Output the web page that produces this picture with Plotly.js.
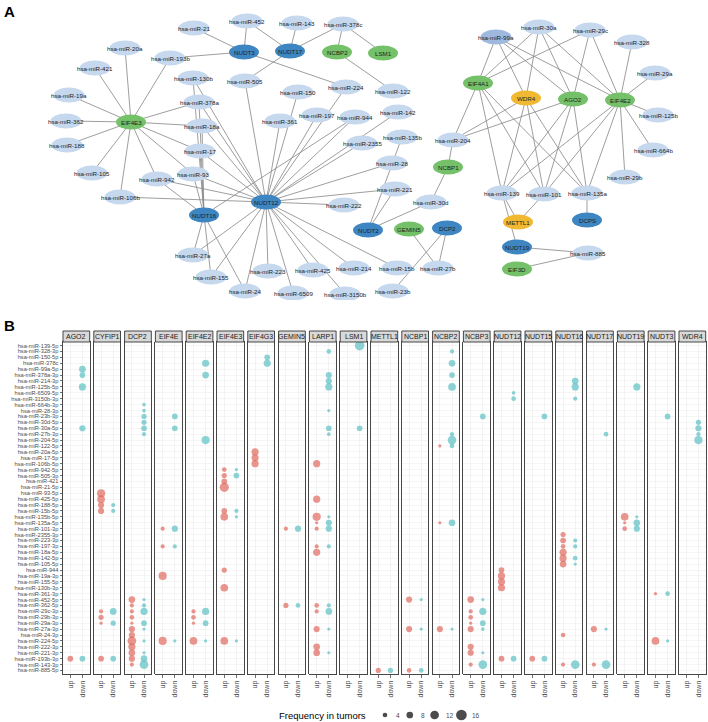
<!DOCTYPE html>
<html><head><meta charset="utf-8">
<script src="https://cdn.plot.ly/plotly-3.0.1.min.js"></script>
<style>html,body{margin:0;padding:0;background:#fff}#chart{width:708px;height:722px}</style>
</head><body><div id="chart"></div>
<script>
// ---------------- Panel A: network ----------------
const nodeName = ['NUDT3','NUDT17','NCBP2','LSM1','EIF4E3','NUDT12','NUDT16','NUDT2','GEMIN5','DCP2','NCBP1','EIF4A1','WDR4','AGO2','EIF4E2','METTL1','DCPS','NUDT19','EIF3D',
 'hsa-miR-21','hsa-miR-452','hsa-miR-143','hsa-miR-378c','hsa-miR-20a','hsa-miR-193b','hsa-miR-421','hsa-miR-130b','hsa-miR-505','hsa-miR-224','hsa-miR-122','hsa-miR-150',
 'hsa-miR-19a','hsa-miR-378a','hsa-miR-142','hsa-miR-197','hsa-miR-944','hsa-miR-361','hsa-miR-362','hsa-miR-18a','hsa-miR-135b','hsa-miR-2355','hsa-miR-188','hsa-miR-17',
 'hsa-miR-28','hsa-miR-105','hsa-miR-93','hsa-miR-942','hsa-miR-221','hsa-miR-106b','hsa-miR-222','hsa-miR-30d','hsa-miR-27a','hsa-miR-155','hsa-miR-223','hsa-miR-425',
 'hsa-miR-214','hsa-miR-15b','hsa-miR-27b','hsa-miR-24','hsa-miR-6509','hsa-miR-3150b','hsa-miR-23b','hsa-miR-30a','hsa-miR-29c','hsa-miR-99a','hsa-miR-328','hsa-miR-29a',
 'hsa-miR-125b','hsa-miR-204','hsa-miR-664b','hsa-miR-29b','hsa-miR-139','hsa-miR-101','hsa-miR-135a','hsa-miR-885'];
const nodeKind = ['nudix','nudix','green','green','green','nudix','nudix','nudix','green','nudix','green','green','yellow','green','green','yellow','nudix','nudix','green',
 'mir','mir','mir','mir','mir','mir','mir','mir','mir','mir','mir','mir',
 'mir','mir','mir','mir','mir','mir','mir','mir','mir','mir','mir','mir',
 'mir','mir','mir','mir','mir','mir','mir','mir','mir','mir','mir','mir',
 'mir','mir','mir','mir','mir','mir','mir','mir','mir','mirDark','mir','mir',
 'mir','mir','mir','mir','mir','mir','mir','mir'];
const nodeX = [244,290,337,383,131,266,204,368,409,447,448,478,526,573,620,518,587,517,517,
 194,247,297,343,125,170,95,193,245,346,393,298,
 69,199,398,317,355,280,66,202,402,362,67,200,
 392,92,193,157,395,120,344,431,193,211,268,313,
 354,397,438,245,293,345,393,539,590,496,632,655,
 658,453,653,625,502,544,587,588];
const nodeY = [52,51,52,53,122,202,215,230,229,228,167,83,98,99,100,222,220,247,269,
 28,21,23,24,48,58,68,78,81,87,91,92,
 95,102,112,115,117,121,121,126,137,143,145,151,
 163,173,174,179,189,197,205,202,255,277,271,270,
 268,268,268,291,293,294,291,27,30,37,42,73,
 115,140,150,177,193,194,193,253];
const edgeHubs = ['EIF4E3','NUDT3','NUDT17','NCBP2','LSM1','NUDT12','NUDT16','NUDT2','GEMIN5','DCP2','NCBP1','EIF4A1','WDR4','AGO2','EIF4E2','METTL1','NUDT19','DCPS','EIF3D'];
const edgeLists = [
 ['hsa-miR-20a','hsa-miR-193b','hsa-miR-421','hsa-miR-19a','hsa-miR-362','hsa-miR-188','hsa-miR-105','hsa-miR-106b','hsa-miR-942','hsa-miR-93','hsa-miR-17','hsa-miR-18a','hsa-miR-378a'],
 ['hsa-miR-21','hsa-miR-452','hsa-miR-193b','hsa-miR-224'],
 ['hsa-miR-452','hsa-miR-143','hsa-miR-378c','hsa-miR-505'],
 ['hsa-miR-378c','hsa-miR-122'],
 ['hsa-miR-378c'],
 ['hsa-miR-130b','hsa-miR-378a','hsa-miR-18a','hsa-miR-17','hsa-miR-93','hsa-miR-942','hsa-miR-106b','hsa-miR-505','hsa-miR-361','hsa-miR-150','hsa-miR-197','hsa-miR-224','hsa-miR-944','hsa-miR-2355','hsa-miR-142','hsa-miR-28','hsa-miR-221','hsa-miR-222','hsa-miR-27a','hsa-miR-155','hsa-miR-24','hsa-miR-223','hsa-miR-6509','hsa-miR-425','hsa-miR-214','hsa-miR-15b','hsa-miR-3150b'],
 ['hsa-miR-130b','hsa-miR-378a','hsa-miR-18a','hsa-miR-17','hsa-miR-93','hsa-miR-942','hsa-miR-27a','hsa-miR-155','hsa-miR-24','hsa-miR-944'],
 ['hsa-miR-221','hsa-miR-135b','hsa-miR-30d'],
 ['hsa-miR-27b'],
 ['hsa-miR-27b','hsa-miR-23b'],
 ['hsa-miR-204','hsa-miR-30d'],
 ['hsa-miR-99a','hsa-miR-30a','hsa-miR-29c','hsa-miR-204','hsa-miR-139','hsa-miR-101','hsa-miR-135a'],
 ['hsa-miR-99a','hsa-miR-30a','hsa-miR-204','hsa-miR-139','hsa-miR-101','hsa-miR-135a'],
 ['hsa-miR-99a','hsa-miR-30a','hsa-miR-29c','hsa-miR-204','hsa-miR-139','hsa-miR-101','hsa-miR-135a'],
 ['hsa-miR-99a','hsa-miR-30a','hsa-miR-29c','hsa-miR-328','hsa-miR-29a','hsa-miR-125b','hsa-miR-664b','hsa-miR-29b','hsa-miR-139','hsa-miR-101','hsa-miR-135a'],
 ['hsa-miR-139','hsa-miR-101'],
 ['hsa-miR-139','hsa-miR-885'],
 ['hsa-miR-135a'],
 ['hsa-miR-885']
];

// ---------------- Panel B: dot plot ----------------
const proteins = ['AGO2','CYFIP1','DCP2','EIF4E','EIF4E2','EIF4E3','EIF4G3','GEMIN5','LARP1','LSM1','METTL1','NCBP1','NCBP2','NCBP3','NUDT12','NUDT15','NUDT16','NUDT17','NUDT19','NUDT3','WDR4'];
const directions = ['up','down'];
const mirnas = ['hsa-miR-139-5p','hsa-miR-328-3p','hsa-miR-150-5p','hsa-miR-378c','hsa-miR-99a-5p','hsa-miR-378a-3p','hsa-miR-214-3p','hsa-miR-125b-5p',
 'hsa-miR-6509-5p','hsa-miR-3150b-3p','hsa-miR-664b-3p','hsa-miR-28-3p','hsa-miR-23b-3p','hsa-miR-30d-5p','hsa-miR-30a-5p','hsa-miR-27b-3p',
 'hsa-miR-204-5p','hsa-miR-122-5p','hsa-miR-20a-5p','hsa-miR-17-5p','hsa-miR-106b-5p','hsa-miR-942-5p','hsa-miR-505-3p','hsa-miR-421',
 'hsa-miR-21-5p','hsa-miR-93-5p','hsa-miR-425-5p','hsa-miR-188-5p','hsa-miR-15b-5p','hsa-miR-135b-5p','hsa-miR-135a-5p','hsa-miR-101-3p',
 'hsa-miR-2355-3p','hsa-miR-223-3p','hsa-miR-197-3p','hsa-miR-18a-5p','hsa-miR-142-5p','hsa-miR-105-5p','hsa-miR-944','hsa-miR-19a-3p',
 'hsa-miR-155-5p','hsa-miR-130b-3p','hsa-miR-361-3p','hsa-miR-452-5p','hsa-miR-362-5p','hsa-miR-29c-3p','hsa-miR-29b-3p','hsa-miR-29a-3p',
 'hsa-miR-27a-3p','hsa-miR-24-3p','hsa-miR-224-5p','hsa-miR-222-3p','hsa-miR-221-3p','hsa-miR-193b-3p','hsa-miR-143-3p','hsa-miR-885-5p'];
// each dot: protein, miRNA (index into mirnas), direction, frequency in tumors
const dotProtein = [
 'AGO2','AGO2','AGO2','AGO2','AGO2','AGO2',
 'CYFIP1','CYFIP1','CYFIP1','CYFIP1','CYFIP1','CYFIP1','CYFIP1','CYFIP1','CYFIP1','CYFIP1','CYFIP1','CYFIP1','CYFIP1',
 'DCP2','DCP2','DCP2','DCP2','DCP2','DCP2','DCP2','DCP2','DCP2','DCP2','DCP2','DCP2','DCP2','DCP2','DCP2','DCP2','DCP2','DCP2','DCP2','DCP2','DCP2','DCP2','DCP2','DCP2','DCP2','DCP2','DCP2',
 'EIF4E','EIF4E','EIF4E','EIF4E','EIF4E','EIF4E','EIF4E','EIF4E','EIF4E',
 'EIF4E2','EIF4E2','EIF4E2','EIF4E2','EIF4E2','EIF4E2','EIF4E2','EIF4E2','EIF4E2','EIF4E2',
 'EIF4E3','EIF4E3','EIF4E3','EIF4E3','EIF4E3','EIF4E3','EIF4E3','EIF4E3','EIF4E3','EIF4E3','EIF4E3','EIF4E3','EIF4E3','EIF4E3',
 'EIF4G3','EIF4G3','EIF4G3','EIF4G3','EIF4G3',
 'GEMIN5','GEMIN5','GEMIN5','GEMIN5',
 'LARP1','LARP1','LARP1','LARP1','LARP1','LARP1','LARP1','LARP1','LARP1','LARP1','LARP1','LARP1','LARP1','LARP1','LARP1','LARP1','LARP1','LARP1','LARP1','LARP1','LARP1','LARP1','LARP1','LARP1','LARP1','LARP1','LARP1',
 'LSM1','LSM1',
 'METTL1','METTL1',
 'NCBP1','NCBP1','NCBP1','NCBP1','NCBP1','NCBP1',
 'NCBP2','NCBP2','NCBP2','NCBP2','NCBP2','NCBP2','NCBP2','NCBP2','NCBP2','NCBP2','NCBP2','NCBP2',
 'NCBP3','NCBP3','NCBP3','NCBP3','NCBP3','NCBP3','NCBP3','NCBP3','NCBP3','NCBP3','NCBP3','NCBP3','NCBP3','NCBP3','NCBP3',
 'NUDT12','NUDT12','NUDT12','NUDT12','NUDT12','NUDT12','NUDT12','NUDT12',
 'NUDT15','NUDT15','NUDT15',
 'NUDT16','NUDT16','NUDT16','NUDT16','NUDT16','NUDT16','NUDT16','NUDT16','NUDT16','NUDT16','NUDT16','NUDT16','NUDT16','NUDT16','NUDT16','NUDT16',
 'NUDT17','NUDT17','NUDT17','NUDT17','NUDT17',
 'NUDT19','NUDT19','NUDT19','NUDT19','NUDT19','NUDT19','NUDT19',
 'NUDT3','NUDT3','NUDT3','NUDT3','NUDT3',
 'WDR4','WDR4','WDR4','WDR4'];
const dotMirna = [
 4,5,7,14,53,53,
 25,26,27,28,27,28,45,46,47,53,45,47,53,
 10,11,12,13,14,15,43,44,45,46,47,48,49,50,51,52,53,54,43,44,45,47,48,50,52,53,54,
 12,14,31,31,34,34,39,50,50,
 3,5,16,45,46,47,50,45,47,50,
 21,22,23,24,21,22,28,29,28,29,38,41,50,50,
 2,3,18,19,20,
 31,31,44,44,
 1,5,6,7,11,14,15,20,26,29,30,31,34,35,29,30,31,34,44,45,48,51,52,44,45,48,52,
 0,14,
 55,55,
 43,43,48,48,55,55,
 1,3,5,7,15,16,17,17,30,30,48,48,
 12,43,45,46,47,48,51,52,54,43,45,47,48,52,54,
 8,9,38,39,40,41,53,53,
 12,53,53,
 6,7,9,32,33,34,35,36,37,33,34,36,37,49,54,54,
 15,48,48,54,54,
 7,29,30,31,29,30,31,
 12,42,42,50,50,
 13,14,15,16];
const dotDir = [
 'down','down','down','down','up','down',
 'up','up','up','up','down','down','up','up','up','up','down','down','down',
 'down','down','down','down','down','down','up','up','up','up','up','up','up','up','up','up','up','up','down','down','down','down','down','down','down','down','down',
 'down','down','up','down','up','down','up','up','down',
 'down','down','down','up','up','up','up','down','down','down',
 'up','up','up','up','down','down','up','up','down','down','up','up','up','down',
 'down','down','up','up','up',
 'up','down','up','down',
 'down','down','down','down','down','down','down','up','up','up','up','up','up','up','down','down','down','down','up','up','up','up','up','down','down','down','down',
 'down','down',
 'up','down',
 'up','down','up','down','up','down',
 'down','down','down','down','down','down','down','up','up','down','up','down',
 'down','up','up','up','up','up','up','up','up','down','down','down','down','down','down',
 'down','down','up','up','up','up','up','down',
 'down','up','down',
 'down','down','down','up','up','up','up','up','up','down','down','down','down','up','up','down',
 'down','up','down','up','down',
 'down','up','up','up','down','down','down',
 'down','up','down','up','down',
 'down','down','down','down'];
const dotFreq = [
 8,6,9,7,6,6,
 11,10,7,7,3,3,3,5,1,6,8,5,6,
 2,2,5,5,6,3,8,3,3,4,1,7,7,12,9,8,7,3,1,3,9,6,1,1,1,8,12,
 6,6,3,7,3,3,11,11,1,
 9,8,11,3,4,1,10,9,6,1,
 4,5,6,13,1,6,6,10,3,1,5,10,10,1,
 6,9,9,9,9,
 3,7,5,4,
 4,7,7,9,1,6,2,9,9,11,1,3,3,9,1,7,7,3,4,3,7,8,8,3,8,1,1,
 14,6,
 5,5,
 7,1,7,1,4,4,
 3,8,6,10,3,12,4,1,1,8,7,1,
 6,8,3,4,1,7,7,7,3,1,9,6,2,1,12,
 2,4,6,9,9,9,6,6,
 6,6,6,
 8,9,3,5,6,4,9,9,8,3,3,4,1,4,3,12,
 4,7,1,3,12,
 9,10,1,4,1,8,7,
 6,1,4,10,1,
 5,7,3,11];
const legendFreq = [4, 8, 12, 16];

// ---------------- build ----------------
const W = 708, H = 722;
const px = x => x / W, py = y => 1 - y / H;
const sizeOf = f => 2.7 + 0.5 * f;
const dirColor = {up: '#E0695F', down: '#5CC0C5'};
const kindColor = {nudix: '#3e86c1', green: '#74c169', yellow: '#f1b832', mir: '#c5d8ee', mirDark: '#9fb9de'};
const FONT = 'Liberation Sans, Arial, Helvetica, sans-serif';

const data = [], shapes = [], annotations = [];
const layout = {width: W, height: H, margin: {l: 0, r: 0, t: 0, b: 0}, paper_bgcolor: '#fff', plot_bgcolor: 'rgba(0,0,0,0)',
  showlegend: false, font: {family: FONT}, hovermode: false};

// Panel A axes in pixel-like units
layout.xaxis = {domain: [0, 1], range: [0, W], visible: false, fixedrange: true};
layout.yaxis = {domain: [py(300), 1], range: [300, 0], visible: false, fixedrange: true, anchor: 'x'};

const idx = {};
nodeName.forEach((n, i) => idx[n] = i);
const ex = [], ey = [];
edgeHubs.forEach((h, k) => {
  edgeLists[k].forEach(t => {
    ex.push(nodeX[idx[h]], nodeX[idx[t]], null);
    ey.push(nodeY[idx[h]], nodeY[idx[t]], null);
  });
});
data.push({type: 'scatter', mode: 'lines', x: ex, y: ey, xaxis: 'x', yaxis: 'y', line: {color: '#8c8c8c', width: 0.85}, hoverinfo: 'skip'});

nodeName.forEach((n, i) => {
  const rx = nodeKind[i].startsWith('mir') ? 15.5 : 15, ry = 7.5;
  shapes.push({type: 'circle', xref: 'x', yref: 'y', x0: nodeX[i] - rx, x1: nodeX[i] + rx, y0: nodeY[i] - ry, y1: nodeY[i] + ry,
    fillcolor: kindColor[nodeKind[i]], line: {width: 0}, layer: 'above'});
  annotations.push({xref: 'x', yref: 'y', x: nodeX[i], y: nodeY[i], text: n, showarrow: false,
    font: {size: 6.2, color: '#1e1e1e', family: FONT}, xanchor: 'center', yanchor: 'middle'});
});

annotations.push({xref: 'paper', yref: 'paper', x: px(2), y: py(1), xanchor: 'left', yanchor: 'top', text: '<b>A</b>', showarrow: false, font: {size: 15, color: '#000'}});
annotations.push({xref: 'paper', yref: 'paper', x: px(2), y: py(315), xanchor: 'left', yanchor: 'top', text: '<b>B</b>', showarrow: false, font: {size: 15, color: '#000'}});

// Panel B facets
const facetLeft0 = 63, facetPitch = 30.8, facetWidth = 26.7;
const panelTop = 342, panelBottom = 674, stripTop = 331;
proteins.forEach((p, k) => {
  const n = k + 2;
  const x0 = facetLeft0 + facetPitch * k, x1 = x0 + facetWidth;
  layout['xaxis' + n] = {domain: [px(x0), px(x1)], anchor: 'y' + n, type: 'category', categoryorder: 'array', categoryarray: directions,
    range: [-0.6, 1.6], tickmode: 'array', tickvals: directions, ticktext: directions, tickangle: -90, ticks: 'outside', ticklen: 3, tickwidth: 0.7,
    tickcolor: '#333', tickfont: {size: 7, color: '#4d4d4d', family: FONT}, showline: true, mirror: true, linecolor: '#333', linewidth: 0.9,
    showgrid: true, gridcolor: '#ebebeb', gridwidth: 0.6, zeroline: false, fixedrange: true};
  layout['yaxis' + n] = {domain: [py(panelBottom), py(panelTop)], anchor: 'x' + n, type: 'category', categoryorder: 'array', categoryarray: mirnas,
    range: [mirnas.length - 0.4, -0.6], tickmode: 'array', tickvals: mirnas, ticktext: mirnas, showticklabels: k === 0,
    ticks: k === 0 ? 'outside' : '', ticklen: 2.5, tickwidth: 0.7, tickcolor: '#333', tickfont: {size: 5.7, color: '#4d4d4d', family: FONT},
    showline: true, mirror: true, linecolor: '#333', linewidth: 0.9, showgrid: true, gridcolor: '#ebebeb', gridwidth: 0.5, zeroline: false, fixedrange: true};
  shapes.push({type: 'rect', xref: 'paper', yref: 'paper', x0: px(x0), x1: px(x1), y0: py(panelTop), y1: py(stripTop),
    fillcolor: '#d9d9d9', line: {color: '#333', width: 0.9}, layer: 'above'});
  annotations.push({xref: 'paper', yref: 'paper', x: px((x0 + x1) / 2), y: py((panelTop + stripTop) / 2), text: p, showarrow: false,
    font: {size: 7, color: '#1a1a1a', family: FONT}, xanchor: 'center', yanchor: 'middle'});
  const xs = [], ys = [], ss = [], cs = [];
  dotProtein.forEach((dp, i) => {
    if (dp !== p) return;
    xs.push(dotDir[i]); ys.push(mirnas[dotMirna[i]]); ss.push(sizeOf(dotFreq[i])); cs.push(dirColor[dotDir[i]]);
  });
  data.push({type: 'scatter', mode: 'markers', x: xs, y: ys, xaxis: 'x' + n, yaxis: 'y' + n, cliponaxis: false,
    marker: {size: ss, color: cs, line: {width: 0}, sizemode: 'diameter'}, hoverinfo: 'skip'});
});

// Size legend
const lgN = proteins.length + 2;
layout['xaxis' + lgN] = {domain: [0, 1], range: [0, W], visible: false, fixedrange: true, anchor: 'y' + lgN};
layout['yaxis' + lgN] = {domain: [0, 1], range: [H, 0], visible: false, fixedrange: true, anchor: 'x' + lgN};
const lgX = legendFreq.map((f, i) => 385 + 24.8 * i + (i >= 3 ? 2 : 0));
data.push({type: 'scatter', mode: 'markers', x: lgX, y: legendFreq.map(() => 715), xaxis: 'x' + lgN, yaxis: 'y' + lgN,
  marker: {size: legendFreq.map(sizeOf), color: '#000', line: {width: 0}}, hoverinfo: 'skip'});
legendFreq.forEach((f, i) => {
  annotations.push({xref: 'paper', yref: 'paper', x: px(lgX[i] + 9), y: py(715), xanchor: 'left', yanchor: 'middle', text: String(f),
    showarrow: false, font: {size: 6.5, color: '#4d4d4d', family: FONT}});
});
annotations.push({xref: 'paper', yref: 'paper', x: px(322), y: py(715), xanchor: 'center', yanchor: 'middle', text: 'Frequency in tumors',
  showarrow: false, font: {size: 9.5, color: '#000', family: FONT}});

layout.shapes = shapes;
layout.annotations = annotations;
Plotly.newPlot('chart', data, layout, {displayModeBar: false, staticPlot: true});
</script></body></html>
